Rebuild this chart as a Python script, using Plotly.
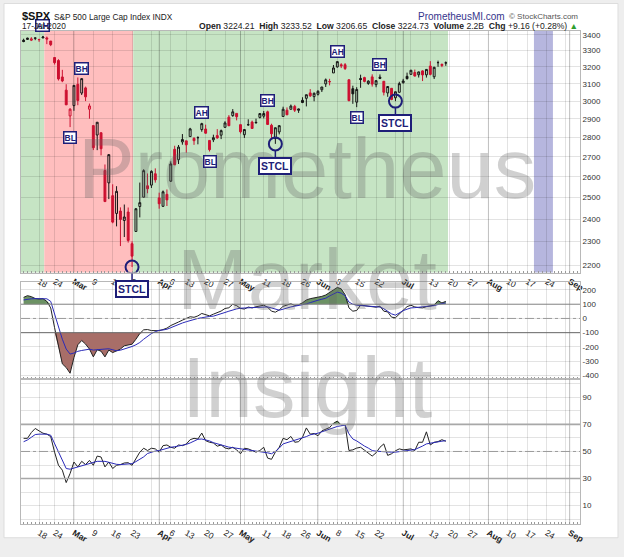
import math
import datetime as dt
import plotly.graph_objects as go

# trading days shown (Feb 11 - Jul 17, 2020)
feb = [11, 12, 13, 14, 18, 19, 20, 21, 24, 25, 26, 27, 28]
mar = [2, 3, 4, 5, 6, 9, 10, 11, 12, 13, 16, 17, 18, 19, 20, 23, 24, 25, 26, 27, 30, 31]
apr = [1, 2, 3, 6, 7, 8, 9, 13, 14, 15, 16, 17, 20, 21, 22, 23, 24, 27, 28, 29, 30]
may = [1, 4, 5, 6, 7, 8, 11, 12, 13, 14, 15, 18, 19, 20, 21, 22, 26, 27, 28, 29]
jun = [1, 2, 3, 4, 5, 8, 9, 10, 11, 12, 15, 16, 17, 18, 19, 22, 23, 24, 25, 26, 29, 30]
jul = [1, 2, 6, 7, 8, 9, 10, 13, 14, 15, 16, 17]
dates = (['2020-02-%02d' % d for d in feb] + ['2020-03-%02d' % d for d in mar] +
         ['2020-04-%02d' % d for d in apr] + ['2020-05-%02d' % d for d in may] +
         ['2020-06-%02d' % d for d in jun] + ['2020-07-%02d' % d for d in jul])
holidays = ['2020-02-17', '2020-04-10', '2020-05-25', '2020-07-03', '2020-09-07']

opens = [3365.87, 3370.50, 3365.90, 3378.08, 3369.04, 3380.39, 3380.45, 3360.50, 3257.61, 3238.94, 3139.90, 3062.54, 2916.90,
         2974.28, 3096.46, 3045.75, 3075.70, 2954.20, 2863.89, 2813.48, 2825.60, 2630.86, 2569.99, 2508.59, 2425.66, 2436.50, 2393.48, 2431.94, 2290.71, 2344.44, 2457.77, 2501.29, 2555.87, 2558.98, 2614.69,
         2498.08, 2458.54, 2514.92, 2578.28, 2738.65, 2685.00, 2776.99, 2782.46, 2805.10, 2795.64, 2799.34, 2842.43, 2845.62, 2784.81, 2787.89, 2810.42, 2812.64, 2854.65, 2909.96, 2918.46, 2930.91,
         2869.09, 2815.01, 2868.88, 2883.14, 2878.26, 2908.83, 2915.46, 2939.50, 2865.86, 2794.54, 2829.95, 2913.86, 2948.59, 2953.63, 2969.95, 2948.05, 3004.08, 3015.65, 3046.61, 3025.17,
         3038.78, 3064.78, 3098.90, 3111.56, 3163.84, 3199.92, 3213.32, 3213.42, 3123.53, 3071.04, 2993.76, 3131.00, 3136.13, 3101.64, 3140.29, 3094.42, 3138.70, 3114.40, 3046.60, 3073.20, 3018.59, 3050.20,
         3105.92, 3143.64, 3155.29, 3166.44, 3153.07, 3176.17, 3152.47, 3205.08, 3141.11, 3225.98, 3208.36, 3224.21]
highs = [3375.63, 3381.47, 3385.09, 3380.69, 3375.01, 3393.52, 3389.15, 3360.76, 3259.81, 3246.99, 3182.51, 3097.07, 2959.72,
         3090.96, 3136.72, 3130.97, 3083.04, 2985.93, 2863.89, 2882.59, 2825.60, 2660.95, 2711.33, 2562.98, 2553.93, 2453.57, 2466.97, 2453.01, 2300.73, 2449.71, 2571.42, 2637.01, 2615.91, 2631.80, 2641.39,
         2522.75, 2533.22, 2538.18, 2676.85, 2756.89, 2760.75, 2818.57, 2782.46, 2851.85, 2801.88, 2806.51, 2879.22, 2868.98, 2785.54, 2815.10, 2844.90, 2842.71, 2887.72, 2921.15, 2954.86, 2930.91,
         2869.09, 2844.24, 2898.23, 2891.11, 2901.92, 2932.16, 2944.25, 2945.82, 2874.14, 2852.80, 2865.01, 2968.09, 2964.21, 2980.29, 2978.50, 2956.76, 3021.72, 3036.25, 3068.67, 3049.17,
         3062.18, 3081.07, 3130.94, 3128.91, 3211.72, 3233.13, 3222.71, 3223.27, 3123.53, 3088.42, 3079.76, 3153.45, 3141.16, 3120.00, 3155.53, 3120.92, 3154.90, 3115.01, 3086.25, 3073.73, 3053.89, 3111.51,
         3128.44, 3165.81, 3182.59, 3184.15, 3171.80, 3179.78, 3186.82, 3235.32, 3200.95, 3238.28, 3220.39, 3233.52]
lows = [3352.72, 3369.72, 3360.52, 3366.15, 3355.61, 3378.83, 3341.02, 3328.45, 3214.65, 3118.77, 3108.99, 2977.39, 2855.84,
        2945.19, 2976.63, 3034.38, 2999.83, 2901.54, 2734.43, 2734.00, 2707.22, 2478.86, 2492.37, 2380.94, 2367.04, 2280.52, 2319.78, 2295.56, 2191.86, 2344.44, 2407.53, 2500.72, 2520.02, 2545.28, 2571.15,
        2447.49, 2455.79, 2459.96, 2574.57, 2657.67, 2663.30, 2762.36, 2721.17, 2805.10, 2761.54, 2764.32, 2830.88, 2820.43, 2727.10, 2775.95, 2794.26, 2791.76, 2852.89, 2860.71, 2912.16, 2892.47,
        2821.61, 2797.85, 2863.55, 2847.65, 2876.48, 2902.88, 2903.44, 2869.59, 2793.15, 2766.64, 2816.78, 2913.86, 2922.35, 2953.63, 2938.57, 2933.59, 2988.17, 2969.75, 3023.40, 2998.61,
        3031.54, 3051.64, 3080.96, 3090.41, 3163.84, 3196.00, 3193.11, 3181.49, 2999.49, 2984.47, 2965.66, 3076.06, 3108.03, 3093.51, 3083.11, 3079.39, 3127.12, 3032.13, 3024.01, 3004.63, 2999.74, 3047.83,
        3101.17, 3124.52, 3155.29, 3142.93, 3136.53, 3115.70, 3136.22, 3149.43, 3127.66, 3200.76, 3198.59, 3206.65]
closes = [3357.75, 3379.45, 3373.94, 3380.16, 3370.29, 3386.15, 3373.23, 3337.75, 3225.89, 3128.21, 3116.39, 2978.76, 2954.22,
          3090.23, 3003.37, 3130.12, 3023.94, 2972.37, 2746.56, 2882.23, 2741.38, 2480.64, 2711.02, 2386.13, 2529.19, 2398.10, 2409.39, 2304.92, 2237.40, 2447.33, 2475.56, 2630.07, 2541.47, 2626.65, 2584.59,
          2470.50, 2526.90, 2488.65, 2663.68, 2659.41, 2749.98, 2789.82, 2761.63, 2846.06, 2783.36, 2799.55, 2874.56, 2823.16, 2736.56, 2799.31, 2797.80, 2836.74, 2878.48, 2863.39, 2939.51, 2912.43,
          2830.71, 2842.74, 2868.44, 2848.42, 2881.19, 2929.80, 2930.32, 2870.12, 2820.00, 2852.50, 2863.70, 2953.91, 2922.94, 2971.61, 2948.51, 2955.45, 2991.77, 3036.13, 3029.73, 3044.31,
          3055.73, 3080.82, 3122.87, 3112.35, 3193.93, 3232.39, 3207.18, 3190.14, 3002.10, 3041.31, 3066.59, 3124.74, 3113.49, 3115.34, 3097.74, 3117.86, 3131.29, 3050.33, 3083.76, 3009.05, 3053.24, 3100.29,
          3115.86, 3130.01, 3179.72, 3145.32, 3169.94, 3152.05, 3185.04, 3155.22, 3197.52, 3226.56, 3215.57, 3224.73]

# CCI panel (black) and its average (blue)
cci = [148, 160, 153, 140, 137, 139, 120, 74, -65, -204, -319, -345, -385,
       -275, -185, -155, -180, -215, -270, -220, -230, -270, -222, -240, -227, -215, -192, -185, -181, -146, -106, -80, -78, -85, -88,
       -86, -78, -68, -50, -40, -25, -12, 2, 12, 8, 18, 35, 28, 18, 30, 42, 52, 70, 75, 100, 90,
       70, 66, 80, 74, 82, 90, 93, 79, 51, 44, 60, 85, 95, 103, 92, 95, 110, 130, 139, 144,
       150, 155, 165, 180, 200, 218, 208, 167, 74, 51, 56, 93, 90, 86, 81, 79, 86, 51, 46, 9, 5, 32,
       62, 83, 93, 81, 76, 74, 83, 86, 93, 125, 109, 120]
cci_avg = [130, 135, 138, 139, 140, 140, 138, 120, 28, -65, -146, -215, -250,
           -243, -231, -225, -218, -216, -222, -218, -215, -215, -213, -222, -227, -223, -215, -204, -197, -185, -169, -146, -123, -106, -93,
           -83, -81, -76, -65, -53, -42, -32, -23, -14, -7, 0, 5, 12, 14, 16, 23, 32, 42, 51, 60, 67,
           72, 74, 74, 75, 76, 79, 81, 81, 74, 65, 58, 65, 74, 81, 86, 90, 97, 102, 111, 122,
           128, 135, 142, 158, 172, 185, 178, 160, 115, 100, 93, 91, 89, 86, 84, 82, 80, 68, 52, 32, 23, 40,
           55, 65, 74, 76, 78, 79, 82, 86, 90, 98, 104, 109]

# RSI panel (black) and its average (blue)
rsi = [59.7, 59.7, 64, 67, 65.2, 63.5, 62.8, 61, 49.5, 39.8, 36.2, 27, 33.7,
       42.2, 38.6, 42.7, 40.3, 43.4, 39.8, 46.6, 45.9, 38.6, 42.2, 37.4, 39.8, 40.3, 41.5, 41.7, 39.8, 45.1, 49.5, 52.4, 50.7, 52.4, 51.9,
       49.5, 54.3, 54.8, 53.1, 52.4, 54.8, 54.3, 55.5, 58.7, 59.7, 59.2, 63.6, 58, 56.8, 56.3, 53.9, 54.8, 52.6, 51.9, 53.1, 51.2,
       48.3, 52.4, 51.9, 50.7, 49.5, 50.7, 53.1, 45.1, 44.2, 49.5, 53.1, 59.7, 58.7, 61.1, 56.8, 57.2, 60.4, 67.4, 62.8, 63.3,
       61.6, 65.2, 66.5, 67.7, 70.8, 72.5, 69.4, 70.1, 50.7, 51.2, 52.5, 53.1, 51, 49, 46.6, 49, 53.1, 55.6, 47.1, 48.3, 50.5, 51.9,
       51.2, 51.5, 51.9, 50.7, 56.8, 56.8, 64.5, 54.8, 56.8, 57.3, 58.7, 57.5]
rsi_avg = [57.2, 58.5, 60.5, 62.5, 62.8, 62.8, 62.8, 62, 56, 49.5, 43, 37.4, 36.9,
           37.8, 38.6, 39.2, 40.3, 41, 41.8, 42.7, 42.7, 42.7, 42, 41, 40.5, 40.3, 40.6, 40.8, 41, 42.5, 44.2, 46, 48.5, 49.5, 50.3,
           50.7, 51.5, 52.5, 53.1, 53.5, 53.9, 54.5, 55.2, 56.3, 57.5, 59, 59.2, 58.7, 57.8, 56.5, 55.6, 54.8, 53.9, 53.2, 52.8, 52.4,
           52.1, 51.9, 51.5, 51.1, 50.7, 50.3, 49.9, 49, 48.3, 50, 52.5, 55.6, 56.5, 57.3, 58.2, 59, 59.7, 61, 62.3, 62.8,
           63.5, 64.5, 65.5, 66.8, 67.8, 68.5, 69, 69.4, 63, 59.2, 57.8, 55.6, 54, 52.5, 50.7, 50.2, 49.9, 49.8, 49.6, 49.5, 49.5, 50,
           50.4, 50.7, 51, 51.4, 52.5, 54, 55.6, 56.2, 56.8, 57.2, 57.6, 58]

# signal labels
top_marks = [('2020-02-19', 'AH'), ('2020-03-04', 'BH'), ('2020-04-17', 'AH'),
             ('2020-05-12', 'BH'), ('2020-06-08', 'AH'), ('2020-06-23', 'BH')]
bottom_marks = [('2020-02-28', 'BL'), ('2020-04-21', 'BL'), ('2020-06-15', 'BL')]
stcl_days = ['2020-03-23', '2020-05-14', '2020-06-29']

# shaded zones: (start day, fraction, end day, fraction, colour)
zones = [('2020-02-11', -0.7, '2020-02-19', 0.34, 'rgb(198,228,196)'),
         ('2020-02-19', 0.34, '2020-03-23', 0.3, 'rgb(255,190,190)'),
         ('2020-03-23', 0.3, '2020-07-17', 0.57, 'rgb(198,228,196)'),
         ('2020-08-18', 0.76, '2020-08-25', 0.66, 'rgb(182,182,222)')]

tick_days = ['2020-02-18', '2020-02-24', '2020-03-02', '2020-03-09', '2020-03-16', '2020-03-23', '2020-03-30',
             '2020-04-01', '2020-04-06', '2020-04-13', '2020-04-20', '2020-04-27', '2020-05-01', '2020-05-04',
             '2020-05-11', '2020-05-18', '2020-05-26', '2020-06-01', '2020-06-08', '2020-06-15', '2020-06-22',
             '2020-06-29', '2020-07-01', '2020-07-06', '2020-07-13', '2020-07-20', '2020-07-27', '2020-08-03',
             '2020-08-10', '2020-08-17', '2020-08-24', '2020-08-31', '2020-09-01']
tick_text = ['18', '24', '<b>Mar</b>', '9', '16', '23', '', '<b>Apr</b>', '6', '13', '20', '27', '<b>May</b>', '',
             '11', '18', '26', '<b>Jun</b>', '8', '15', '22', '', '<b>Jul</b>', '', '13', '20', '27', '<b>Aug</b>',
             '10', '17', '24', '', '<b>Sep</b>']
month_days = ['2020-03-02', '2020-04-01', '2020-05-01', '2020-06-01', '2020-07-01', '2020-08-03', '2020-09-01']
price_ticks = [2200, 2300, 2400, 2500, 2600, 2700, 2800, 2900, 3000, 3100, 3200, 3300, 3400]
cci_ticks = [-400, -300, -200, -100, 0, 100, 200]
rsi_ticks = [0, 10, 20, 30, 40, 50, 60, 70, 80, 90, 100]
rsi_text = ['', '10', '', '30', '', '50', '', '70', '', '90', '']

FONT = 'Liberation Sans, Arial, sans-serif'
NAVY = '#1e1e78'
RED = '#cc1030'
BLK = '#151515'
n = len(dates)

# trading-day axis (bars spaced by session, weekends/holidays skipped)
cal = []
day = dt.date(2020, 2, 10)
while day <= dt.date(2020, 9, 4):
    if day.weekday() < 5 and day.isoformat() not in holidays:
        cal.append(day.isoformat())
    day += dt.timedelta(days=1)
pos = {d: k for k, d in enumerate(cal)}
xs = [pos[d] for d in dates]

fig = go.Figure()

# candles: black when close >= previous close, red otherwise; hollow when close > open
prev = [closes[0]] + closes[:-1]
for colour, up in [(BLK, True), (RED, False)]:
    idx = [k for k in range(n) if (closes[k] >= prev[k]) == up]
    fig.add_trace(go.Candlestick(
        x=[xs[k] for k in idx], open=[opens[k] for k in idx], high=[highs[k] for k in idx],
        low=[lows[k] for k in idx], close=[closes[k] for k in idx],
        increasing=dict(line=dict(color=colour, width=1), fillcolor='rgba(0,0,0,0)'),
        decreasing=dict(line=dict(color=colour, width=1), fillcolor=colour),
        xaxis='x', yaxis='y', showlegend=False, hoverinfo='skip'))

# STCL circles on the lows
stcl_lows = [lows[dates.index(d)] for d in stcl_days]
fig.add_trace(go.Scatter(x=[pos[d] for d in stcl_days], y=stcl_lows, mode='markers', xaxis='x', yaxis='y',
                         marker=dict(symbol='circle-open', size=13, color=NAVY, line=dict(width=2, color=NAVY)),
                         showlegend=False, hoverinfo='skip'))


def band(vals, level, above, axis, colour):
    clipped = [max(v, level) if above else min(v, level) for v in vals]
    fig.add_trace(go.Scatter(x=xs, y=[level] * n, mode='lines', line=dict(width=0),
                             xaxis='x' + axis, yaxis='y' + axis, showlegend=False, hoverinfo='skip'))
    fig.add_trace(go.Scatter(x=xs, y=clipped, mode='lines', line=dict(width=0), fill='tonexty',
                             fillcolor=colour, xaxis='x' + axis, yaxis='y' + axis,
                             showlegend=False, hoverinfo='skip'))


band(cci, 100, True, '2', 'rgb(108,146,100)')
band(cci, -100, False, '2', 'rgb(168,110,104)')
band(rsi, 70, True, '3', 'rgb(108,146,100)')

for axis, avg, line in [('2', cci_avg, cci), ('3', rsi_avg, rsi)]:
    fig.add_trace(go.Scatter(x=xs, y=line, mode='lines', line=dict(color='#222222', width=1),
                             xaxis='x' + axis, yaxis='y' + axis, showlegend=False, hoverinfo='skip'))
    fig.add_trace(go.Scatter(x=xs, y=avg, mode='lines', line=dict(color='#2a2ab8', width=1),
                             xaxis='x' + axis, yaxis='y' + axis, showlegend=False, hoverinfo='skip'))

shapes = []
# white card on a grey page
shapes.append(dict(type='rect', xref='paper', yref='paper', x0=-0.0304, x1=1.068, y0=-0.0279, y1=1.0558,
                   fillcolor='white', line=dict(color='#dddddd', width=1), layer='below'))
for d0, f0, d1, f1, c in zones:
    shapes.append(dict(type='rect', xref='x', yref='y domain', x0=pos[d0] + f0, x1=pos[d1] + f1, y0=0, y1=1,
                       fillcolor=c, line=dict(width=0), layer='below'))
for ax in ['', '2', '3']:
    for d in month_days:
        shapes.append(dict(type='line', xref='x' + ax, yref='y%s domain' % ax, x0=pos[d], x1=pos[d], y0=0, y1=1,
                           line=dict(color='rgba(0,0,0,0.16)', width=1), layer='below'))
for ax, lvl, dash, col, w in [('2', 100, 'solid', '#8a8a8a', 1), ('2', 0, 'dashdot', '#9a9a9a', 1),
                              ('2', -100, 'solid', '#6a6a6a', 1), ('3', 70, 'solid', '#a8a8a8', 1.6),
                              ('3', 50, 'dashdot', '#9a9a9a', 1), ('3', 30, 'solid', '#a8a8a8', 1.6)]:
    shapes.append(dict(type='line', xref='x%s domain' % ax, yref='y' + ax, x0=0, x1=1, y0=lvl, y1=lvl,
                       line=dict(color=col, width=w, dash=dash)))

annotations = []
# watermark
for word, yp in [('Prometheus', 0.721), ('Market', 0.496), ('Insight', 0.276)]:
    annotations.append(dict(text=word, xref='paper', yref='paper', x=0.512, y=yp, xanchor='center',
                            yanchor='middle', showarrow=False,
                            font=dict(family=FONT, size=85, color='rgba(100,100,100,0.30)')))
# AH / BH / BL boxes
for d, lab in top_marks:
    annotations.append(dict(text='<b>%s</b>' % lab, x=pos[d], y=math.log10(highs[dates.index(d)]),
                            xref='x', yref='y', yshift=10, showarrow=False, bgcolor='white',
                            bordercolor=NAVY, borderwidth=1.5, borderpad=0,
                            font=dict(family=FONT, size=8.5, color=NAVY)))
for d, lab in bottom_marks:
    annotations.append(dict(text='<b>%s</b>' % lab, x=pos[d], y=math.log10(lows[dates.index(d)]),
                            xref='x', yref='y', yshift=-10, showarrow=False, bgcolor='white',
                            bordercolor=NAVY, borderwidth=1.5, borderpad=0,
                            font=dict(family=FONT, size=8.5, color=NAVY)))
for d, lo in zip(stcl_days, stcl_lows):
    annotations.append(dict(text='<b>STCL</b>', x=pos[d], y=math.log10(lo), xref='x', yref='y', showarrow=True,
                            ax=0, ay=22, arrowhead=0, arrowwidth=1.5, arrowcolor=NAVY, standoff=6.5,
                            bgcolor='white', bordercolor=NAVY, borderwidth=2, borderpad=1,
                            font=dict(family=FONT, size=10.5, color=NAVY)))

# header
chg = closes[-1] - closes[-2]
info = ('<b>Open</b> %.2f  <b>High</b> %.2f  <b>Low</b> %.2f  <b>Close</b> %.2f  <b>Volume</b> 2.2B  '
        '<b>Chg</b> %+.2f (%+.2f%%) <span style="color:#2e9e2e">▲</span>'
        % (opens[-1], highs[-1], lows[-1], closes[-1], chg, math.floor(chg / closes[-2] * 10000) / 100))
header = [('<b>$SPX</b>', -0.002, 1.0299, 'left', 11, '#111111'),
          ('S&P 500 Large Cap Index INDX', 0.0555, 1.0289, 'left', 8.3, '#222222'),
          ('17-Jul-2020', -0.002, 1.0100, 'left', 8.3, '#222222'),
          (info, 1.0, 1.0100, 'right', 8.6, '#222222'),
          ('PrometheusMI.com', 0.7066, 1.0289, 'left', 10, '#35358c'),
          ('© StockCharts.com', 1.0, 1.0299, 'right', 8, '#555555')]
for txt, xp, yp, anc, sz, col in header:
    annotations.append(dict(text=txt, xref='paper', yref='paper', x=xp, y=yp, xanchor=anc, yanchor='middle',
                            showarrow=False, font=dict(family=FONT, size=sz, color=col)))

grid = 'rgba(0,0,0,0.11)'
xcommon = dict(type='linear', range=[pos['2020-02-11'] - 0.67, pos['2020-09-03'] + 0.65],
               tickmode='array', tickvals=[pos[d] for d in tick_days], ticktext=tick_text,
               showgrid=True, gridcolor=grid, showline=True, mirror=True, linecolor='#b8b8b8',
               ticks='', zeroline=False, tickfont=dict(family=FONT, size=8.5, color='#222222'),
               minor=dict(ticks='inside', ticklen=2, tickcolor='#999999', dtick=1, tick0=0, showgrid=False),
               rangeslider=dict(visible=False), fixedrange=True)
ycommon = dict(side='right', showgrid=True, gridcolor=grid, showline=True, mirror=True, linecolor='#b8b8b8',
               ticks='', zeroline=False, tickfont=dict(family=FONT, size=8, color='#333333'), fixedrange=True)

fig.update_layout(
    width=624, height=557,
    margin=dict(l=21, r=44, t=31, b=24),
    paper_bgcolor='#eeeeee', plot_bgcolor='white',
    showlegend=False,
    xaxis=dict(xcommon, anchor='y', showticklabels=True),
    xaxis2=dict(xcommon, anchor='y2', matches='x', showticklabels=False),
    xaxis3=dict(xcommon, anchor='y3', matches='x', showticklabels=True),
    yaxis=dict(ycommon, domain=[0.51, 1.0], type='log', anchor='x',
               range=[math.log10(2169), math.log10(3425)],
               tickmode='array', tickvals=price_ticks, ticktext=[str(v) for v in price_ticks]),
    yaxis2=dict(ycommon, domain=[0.2948, 0.49], anchor='x2', range=[-423, 253],
                tickmode='array', tickvals=cci_ticks, ticktext=[str(v) for v in cci_ticks]),
    yaxis3=dict(ycommon, domain=[0.0, 0.2948], anchor='x3', range=[-3.6, 103.8],
                tickmode='array', tickvals=rsi_ticks, ticktext=rsi_text),
    shapes=shapes,
    annotations=annotations,
    font=dict(family=FONT),
)

# the page's default body margin would push the 624x557 figure off the window
fig.write_html("out.html", config={'displayModeBar': False},
               post_script="document.body.style.margin='0';")
